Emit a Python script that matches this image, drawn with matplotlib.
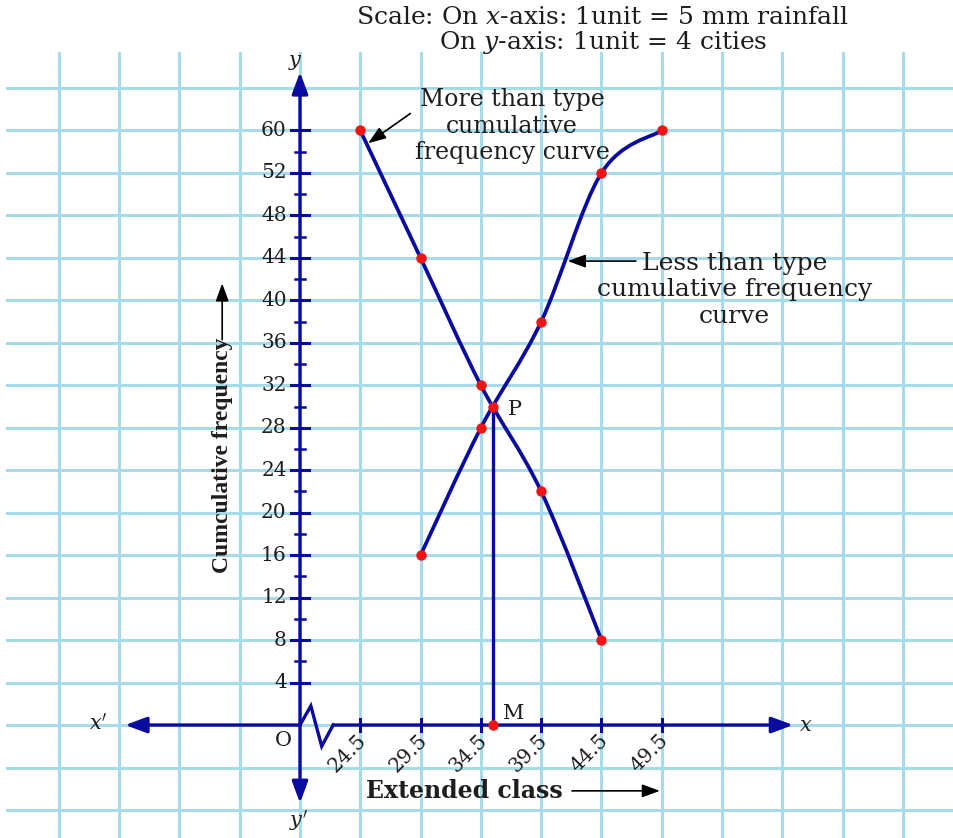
import matplotlib
matplotlib.use('Agg')
import matplotlib.pyplot as plt
from matplotlib.path import Path
from matplotlib.patches import PathPatch
import numpy as np

# ---------------- data
classes = [24.5, 29.5, 34.5, 39.5, 44.5, 49.5]
class_labels = ['24.5', '29.5', '34.5', '39.5', '44.5', '49.5']

less_x = [29.5, 34.5, 39.5, 44.5, 49.5]
less_cf = [16, 28, 38, 52, 56]
more_x = [24.5, 29.5, 34.5, 39.5, 44.5]
more_cf = [56, 44, 32, 22, 8]

median_x = 35.5
median_cf = 30

y_ticks = [4, 8, 12, 16, 20, 24, 28, 32, 36, 40, 44, 48, 52, 56]
y_labels = ['4', '8', '12', '16', '20', '24', '28', '32', '36', '40', '44', '48', '52', '60']
y_minor = [6, 10, 14, 18, 22, 26, 30, 34, 38, 42, 46, 50, 54]

BLUE = '#0b0ba0'
RED = '#f01515'
GRID = '#a6dbea'
INK = '#1e1e1e'

plt.rcParams['font.family'] = 'DejaVu Serif'
plt.rcParams['mathtext.fontset'] = 'dejavuserif'


def xpos(v):
    # broken x axis: one grid unit per 5 mm, 24.5 sits on the first unit
    return 1 + (np.asarray(v, dtype=float) - 24.5) / 5.0


def smooth(xs, ys, k=6.0):
    # catmull-rom curve through the points, drawn as cubic bezier
    pts = np.column_stack([xs, ys])
    n = len(pts)
    verts = [pts[0]]
    codes = [Path.MOVETO]
    for i in range(n - 1):
        p0 = pts[max(i - 1, 0)]
        p1 = pts[i]
        p2 = pts[i + 1]
        p3 = pts[min(i + 2, n - 1)]
        verts += [p1 + (p2 - p0) / k, p2 - (p3 - p1) / k, p2]
        codes += [Path.CURVE4] * 3
    return Path(verts, codes)


fig = plt.figure(figsize=(9.54, 8.38), dpi=100)
ax = fig.add_axes([0, 0, 1, 1])
ax.set_xlim(-4.975, 10.846)
ax.set_ylim(-10.64, 68.29)
ax.axis('off')

# graph paper
for gy in range(-8, 61, 4):
    ax.plot([-4.86, 11], [gy, gy], color=GRID, lw=2.2, zorder=1)
for gx in range(-4, 11):
    ax.plot([gx, gx], [-11, 63.3], color=GRID, lw=2.2, zorder=1)

# axes with arrows
head = '-|>,head_length=0.65,head_width=0.24'
aprops = dict(arrowstyle=head, color=BLUE, lw=2.4, mutation_scale=20,
              shrinkA=0, shrinkB=0)
ax.annotate('', xy=(-2.9, 0), xytext=(0, 0), arrowprops=aprops, zorder=3)
ax.annotate('', xy=(8.18, 0), xytext=(0.55, 0), arrowprops=aprops, zorder=3)
ax.annotate('', xy=(0, 61.5), xytext=(0, 0), arrowprops=aprops, zorder=3)
ax.annotate('', xy=(0, -7.35), xytext=(0, 0), arrowprops=aprops, zorder=3)
ax.plot([0, 0.18, 0.36, 0.55], [0, 1.8, -2.0, 0], color=BLUE, lw=2.4,
        solid_joinstyle='miter', zorder=3)

# y ticks
for t, lab in zip(y_ticks, y_labels):
    ax.plot([-0.155, 0.155], [t, t], color=BLUE, lw=2.2, zorder=3)
    ax.text(-0.22, t, lab, ha='right', va='center', fontsize=14.5, color=INK)
for t in y_minor:
    ax.plot([-0.09, 0.09], [t, t], color=BLUE, lw=1.8, zorder=3)

# x ticks
for c, lab in zip(classes, class_labels):
    u = xpos(c)
    ax.plot([u, u], [-0.55, 0.55], color=BLUE, lw=2.2, zorder=3)
    ax.text(u + 0.06, -1.2, lab, ha='right', va='center', rotation=45,
            rotation_mode='anchor', fontsize=14.5, color=INK)

# ogives
ax.add_patch(PathPatch(smooth(xpos(more_x), more_cf), fill=False,
                       ec=BLUE, lw=2.7, zorder=4))
ax.add_patch(PathPatch(smooth(xpos(less_x), less_cf), fill=False,
                       ec=BLUE, lw=2.7, zorder=4))
ax.plot([xpos(median_x)] * 2, [0, median_cf], color=BLUE, lw=2.4, zorder=4)

ax.plot(xpos(more_x), more_cf, 'o', color=RED, ms=6.5, zorder=6)
ax.plot(xpos(less_x), less_cf, 'o', color=RED, ms=6.5, zorder=6)
ax.plot([xpos(median_x)] * 2, [median_cf, 0], 'o', color=RED, ms=6.5, zorder=6)

# letters on axes
ax.text(-0.07, 62.4, '$y$', fontsize=15, ha='center', va='center', color=INK)
ax.text(-0.03, -9.1, "$y'$", fontsize=15, ha='center', va='center', color=INK)
ax.text(-3.35, 0.1, "$x'$", fontsize=15, ha='center', va='center', color=INK)
ax.text(8.39, 0.0, '$x$', fontsize=15, ha='center', va='center', color=INK)
ax.text(-0.27, -1.5, 'O', fontsize=15, ha='center', va='center', color=INK)
ax.text(3.55, 1.1, 'M', fontsize=15, ha='center', va='center', color=INK)
ax.text(3.57, 29.7, 'P', fontsize=15, ha='center', va='center', color=INK)

# annotations
black = dict(arrowstyle='-|>,head_length=0.6,head_width=0.22', color='black',
             lw=1.2, mutation_scale=18, shrinkA=0, shrinkB=0)
ax.text(3.52, 56.4, 'More than type\ncumulative\nfrequency curve', fontsize=17,
        ha='center', va='center', linespacing=1.2, color=INK, zorder=5)
ax.annotate('', xy=(1.13, 54.8), xytext=(1.83, 57.6), arrowprops=black, zorder=5)

ax.text(7.21, 41.0, 'Less than type\ncumulative frequency\ncurve', fontsize=18,
        ha='center', va='center', linespacing=1.2, color=INK, zorder=5)
ax.annotate('', xy=(4.44, 43.7), xytext=(5.57, 43.7), arrowprops=black, zorder=5)

ax.text(-1.29, 25.4, 'Cumculative frequency', rotation=90, fontsize=17,
        family='Liberation Serif', weight='bold', ha='center', va='center', color=INK)
ax.annotate('', xy=(-1.29, 41.6), xytext=(-1.29, 36.3), arrowprops=black)

ax.text(2.72, -6.2, 'Extended class', fontsize=17, weight='bold',
        ha='center', va='center', color=INK)
ax.annotate('', xy=(5.97, -6.2), xytext=(4.51, -6.2), arrowprops=black)

fig.text(0.632, 1 - 31.5 / 838,
         'Scale: On $x$-axis: 1unit = 5 mm rainfall\nOn $y$-axis: 1unit = 4 cities',
         ha='center', va='center', multialignment='center', fontsize=18,
         linespacing=1.0, color=INK)

fig.savefig('out.png', dpi=100)
